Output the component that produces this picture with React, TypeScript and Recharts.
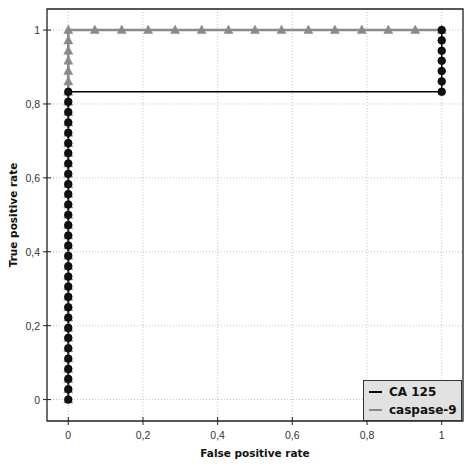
import React from 'react';
import { LineChart, Line, XAxis, YAxis, CartesianGrid, Legend, ReferenceArea } from 'recharts';

// CA 125 ROC points
const ca125Fpr = [
  0, 0, 0, 0, 0, 0, 0, 0, 0, 0, 0, 0, 0, 0, 0, 0, 0, 0, 0, 0, 0, 0, 0, 0, 0, 0, 0, 0, 0, 0, 0,
  1, 1, 1, 1, 1, 1, 1,
];
const ca125Tpr = [
  0, 0.028, 0.056, 0.083, 0.111, 0.139, 0.167, 0.194, 0.222, 0.25, 0.278, 0.306, 0.333, 0.361,
  0.389, 0.417, 0.444, 0.472, 0.5, 0.528, 0.556, 0.583, 0.611, 0.639, 0.667, 0.694, 0.722, 0.75,
  0.778, 0.806, 0.833,
  0.833, 0.861, 0.889, 0.917, 0.944, 0.972, 1,
];

// caspase-9 ROC points
const caspaseFpr = [
  0, 0, 0, 0, 0, 0, 0, 0, 0, 0, 0, 0, 0, 0, 0, 0, 0, 0, 0, 0, 0, 0, 0, 0, 0, 0, 0, 0, 0, 0, 0,
  0, 0, 0, 0, 0, 0,
  0.071, 0.143, 0.214, 0.286, 0.357, 0.429, 0.5, 0.571, 0.643, 0.714, 0.786, 0.857, 0.929, 1,
];
const caspaseTpr = [
  0, 0.028, 0.056, 0.083, 0.111, 0.139, 0.167, 0.194, 0.222, 0.25, 0.278, 0.306, 0.333, 0.361,
  0.389, 0.417, 0.444, 0.472, 0.5, 0.528, 0.556, 0.583, 0.611, 0.639, 0.667, 0.694, 0.722, 0.75,
  0.778, 0.806, 0.833, 0.861, 0.889, 0.917, 0.944, 0.972, 1,
  1, 1, 1, 1, 1, 1, 1, 1, 1, 1, 1, 1, 1, 1,
];

const axisTicks = [0, 0.2, 0.4, 0.6, 0.8, 1];
const xDomain = [-0.057, 1.057];
const yDomain = [-0.058, 1.057];
const seriesNames = ['CA 125', 'caspase-9'];
const seriesColors = ['#000000', '#8a8a8a'];

const ca125Data = ca125Fpr.map((x, i) => ({ x, y: ca125Tpr[i] }));
const caspaseData = caspaseFpr.map((x, i) => ({ x, y: caspaseTpr[i] }));

const fmt = (v: number) => String(v).replace('.', ',');
const tickFont = { fontFamily: 'Liberation Sans, Arial, sans-serif', fontSize: 10.5, fill: '#333340' };

const XTick = (props: any) => {
  const { x, y, payload } = props;
  return (
    <g>
      <line x1={x} x2={x} y1={y - 4} y2={y + 4} stroke="#222" strokeWidth={1} />
      <text x={x} y={y + 18} textAnchor="middle" {...tickFont}>
        {fmt(payload.value)}
      </text>
    </g>
  );
};

const YTick = (props: any) => {
  const { x, y, payload } = props;
  return (
    <g>
      <line x1={x - 4} x2={x + 4} y1={y} y2={y} stroke="#222" strokeWidth={1} />
      <text x={x - 7} y={y + 4} textAnchor="end" {...tickFont}>
        {fmt(payload.value)}
      </text>
    </g>
  );
};

const Tri = (props: any) => {
  const { cx, cy, index } = props;
  if (cx == null || cy == null) return <g key={`t${index}`} />;
  return (
    <polygon
      key={`t${index}`}
      points={`${cx},${cy - 5} ${cx - 4.5},${cy + 3.5} ${cx + 4.5},${cy + 3.5}`}
      fill="#8a8a8a"
      stroke="#8a8a8a"
      strokeWidth={0.5}
    />
  );
};

const Dot = (props: any) => {
  const { cx, cy, index } = props;
  if (cx == null || cy == null) return <g key={`d${index}`} />;
  return <circle key={`d${index}`} cx={cx} cy={cy} r={3.8} fill="#111" stroke="#000" strokeWidth={0.8} />;
};

const titleFont = { fontFamily: 'DejaVu Sans, sans-serif', fontSize: 10.5, fontWeight: 700, fill: '#111' };

const LegendBox = () => (
  <div
    style={{
      width: 99,
      height: 41,
      background: '#e1e1e1',
      border: '1px solid #333',
      boxSizing: 'border-box',
      fontFamily: 'DejaVu Sans, sans-serif',
      fontWeight: 700,
      fontSize: 12,
      color: '#111',
      paddingTop: 2,
      textAlign: 'left',
    }}
  >
    {seriesNames.map((n, i) => (
      <div key={n} style={{ display: 'flex', alignItems: 'center', height: 18 }}>
        <div style={{ width: 13, height: 2, background: seriesColors[i], marginLeft: 5, marginRight: 7 }} />
        <span>{n}</span>
      </div>
    ))}
  </div>
);

export default function App() {
  return (
    <div style={{ position: 'absolute', left: 0, top: 0, width: 474, height: 467, background: '#fff' }}>
      <LineChart width={474} height={467} margin={{ top: 9, right: 11, bottom: 0, left: 0 }}>
        <CartesianGrid
          xAxisId="b"
          yAxisId="l"
          stroke="#c4c4c4"
          strokeDasharray="1 2"
          horizontalValues={axisTicks}
          verticalValues={axisTicks}
        />
        <XAxis
          xAxisId="b"
          type="number"
          dataKey="x"
          domain={xDomain}
          ticks={axisTicks}
          allowDataOverflow
          height={46}
          tickSize={0}
          tickMargin={0}
          tick={<XTick />}
          axisLine={false}
          label={{
            content: (p: any) => {
              const vb = p.viewBox;
              return (
                <text x={vb.x + vb.width / 2} y={vb.y + 36} textAnchor="middle" {...titleFont}>
                  False positive rate
                </text>
              );
            },
          }}
        />
        <YAxis
          yAxisId="l"
          type="number"
          dataKey="y"
          domain={yDomain}
          ticks={axisTicks}
          allowDataOverflow
          width={47}
          tickSize={0}
          tickMargin={0}
          tick={<YTick />}
          axisLine={false}
          label={{
            content: (p: any) => {
              const vb = p.viewBox;
              const cx = 17;
              const cy = vb.y + vb.height / 2;
              return (
                <text x={cx} y={cy} textAnchor="middle" transform={`rotate(-90 ${cx} ${cy})`} {...titleFont}>
                  True positive rate
                </text>
              );
            },
          }}
        />
        <ReferenceArea
          xAxisId="b"
          yAxisId="l"
          x1={xDomain[0]}
          x2={xDomain[1]}
          y1={yDomain[0]}
          y2={yDomain[1]}
          fill="none"
          fillOpacity={0}
          stroke="#222"
          strokeWidth={1.3}
          strokeOpacity={1}
          ifOverflow="visible"
        />
        <Legend
          layout="horizontal"
          verticalAlign="middle"
          align="center"
          content={<LegendBox />}
          wrapperStyle={{ position: 'absolute', left: 363, top: 380, width: 99, height: 41 }}
        />
        <Line
          xAxisId="b"
          yAxisId="l"
          data={caspaseData}
          dataKey="y"
          name="caspase-9"
          stroke="#8a8a8a"
          strokeWidth={2.6}
          dot={Tri}
          activeDot={false}
          isAnimationActive={false}
        />
        <Line
          xAxisId="b"
          yAxisId="l"
          data={ca125Data}
          dataKey="y"
          name="CA 125"
          stroke="#000"
          strokeWidth={1.5}
          dot={Dot}
          activeDot={false}
          isAnimationActive={false}
        />
      </LineChart>
    </div>
  );
}
